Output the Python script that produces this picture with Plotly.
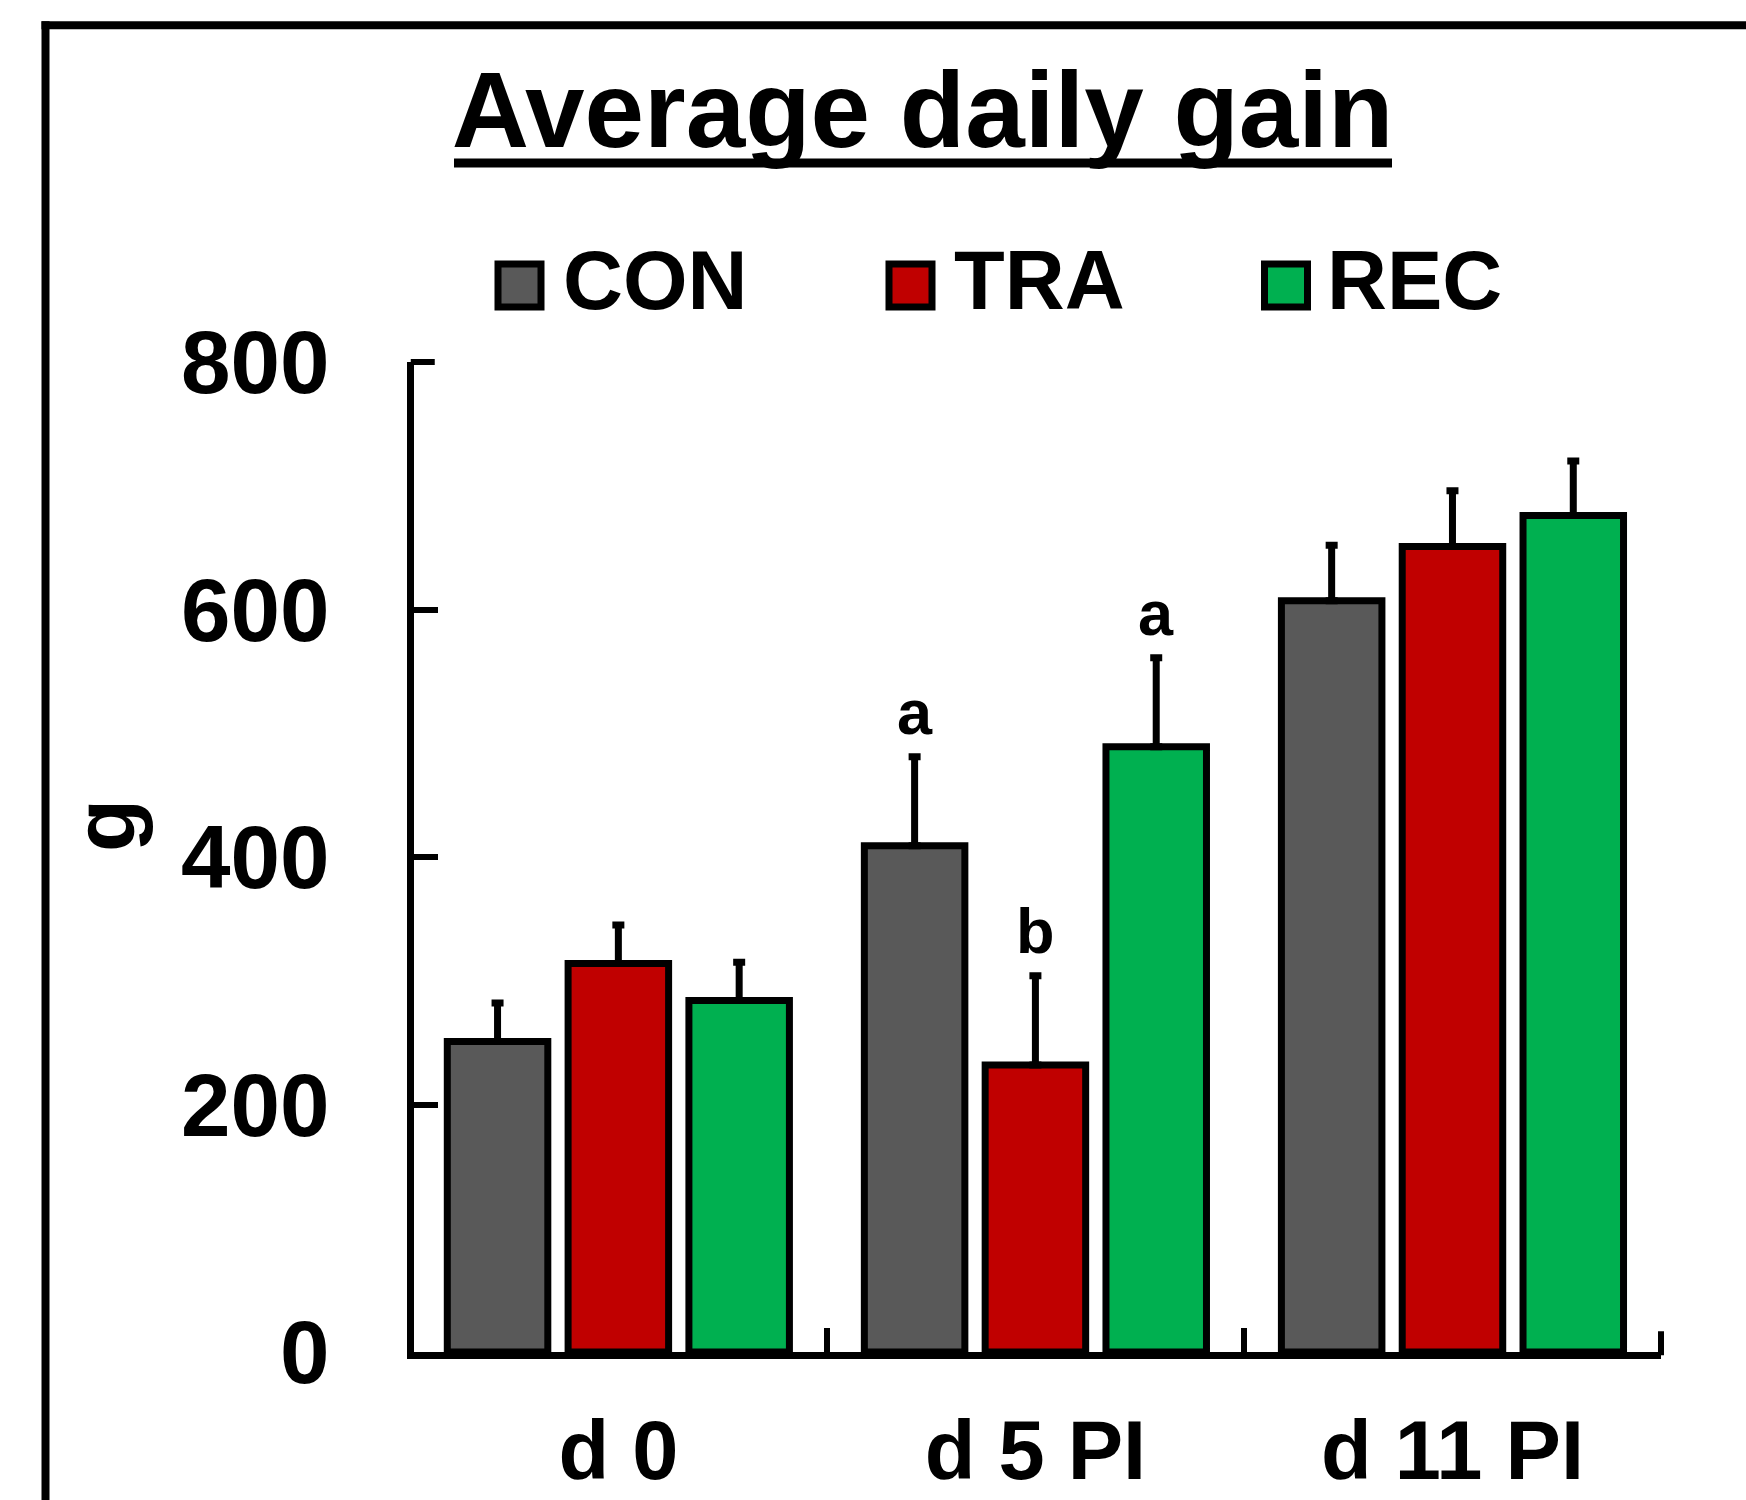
import plotly.graph_objects as go

# ---- data ----
categories = ["d 0", "d 5 PI", "d 11 PI"]
groups = ["CON", "TRA", "REC"]
con_mean = [251, 409, 607]
tra_mean = [314, 232, 651]
rec_mean = [284, 489, 676]
con_se = [31, 72, 45]
tra_se = [31, 72, 45]
rec_se = [31, 72, 44]
letters_con = ["", "a", ""]
letters_tra = ["", "b", ""]
letters_rec = ["", "a", ""]
y_ticks = [0, 200, 400, 600, 800]
y_range = [0, 800]
x_range = [-0.49, 2.5]
title_text = "Average daily gain"
y_title = "g"

colors = {"CON": "#595959", "TRA": "#C00000", "REC": "#00B050"}
means = {"CON": con_mean, "TRA": tra_mean, "REC": rec_mean}
ses = {"CON": con_se, "TRA": tra_se, "REC": rec_se}
letters = {"CON": letters_con, "TRA": letters_tra, "REC": letters_rec}

# ---- layout geometry ----
FIG_W, FIG_H = 1746, 1500
ML, MR, MT, MB = 414, 85, 362, 148
PW = FIG_W - ML - MR
PH = FIG_H - MT - MB
BARGAP = 0.131
BARGROUPGAP = 0.168
AX_LW = 6.5
TICKLEN = 24
TICKW = 6
FONT = "Liberation Sans, Arial, sans-serif"


def px(x):
    return (x - ML) / PW


def py(y):
    return (FIG_H - MB - y) / PH


fig = go.Figure()
for g in groups:
    fig.add_trace(go.Bar(
        name=g,
        x=categories,
        y=means[g],
        marker=dict(color=colors[g], line=dict(color="black", width=7)),
        error_y=dict(type="data", array=ses[g], arrayminus=[0] * len(ses[g]),
                     symmetric=False, color="black", thickness=7, width=6),
        showlegend=False,
    ))

annotations = []
slot = (1 - BARGAP) / len(groups)
for gi, g in enumerate(groups):
    off = (gi - (len(groups) - 1) / 2) * slot
    for ci, c in enumerate(categories):
        t = letters[g][ci]
        if t:
            annotations.append(dict(
                x=ci + off, y=means[g][ci] + ses[g][ci], xref="x", yref="y",
                text=t, showarrow=False, xanchor="center", yanchor="bottom",
                yshift=8, font=dict(family=FONT, size=63, color="black", weight="bold")))

# y-axis title as rotated text
annotations.append(dict(
    x=px(104), y=py(826), xref="paper", yref="paper", text=y_title,
    showarrow=False, textangle=-90, xanchor="center", yanchor="middle",
    font=dict(family=FONT, size=87, color="black", weight="bold")))

# custom legend
shapes = []
legend_items = [("CON", 519.5, 561), ("TRA", 910.5, 952), ("REC", 1286, 1325)]
for name, bx, tx in legend_items:
    shapes.append(dict(type="rect", xref="paper", yref="paper",
                       x0=px(bx - 21.5), x1=px(bx + 21.5),
                       y0=py(285.5 + 21.5), y1=py(285.5 - 21.5),
                       fillcolor=colors[name], line=dict(color="black", width=7)))
    annotations.append(dict(
        x=px(tx), y=py(280.5), xref="paper", yref="paper", text=name,
        showarrow=False, xanchor="left", yanchor="middle",
        font=dict(family=FONT, size=83, color="black", weight="bold")))

# title underline (continuous, under descenders)
shapes.append(dict(type="line", xref="paper", yref="paper",
                   x0=px(454), x1=px(1392), y0=py(163), y1=py(163),
                   line=dict(color="black", width=9)))

# end ticks that plotly clips at the axis extremes
y_top_frac = (y_ticks[-1] - y_range[0]) / (y_range[1] - y_range[0])
shapes.append(dict(type="line", xref="paper", yref="paper",
                   x0=-AX_LW / 2 / PW, x1=(TICKLEN - AX_LW / 2) / PW,
                   y0=y_top_frac, y1=y_top_frac,
                   line=dict(color="black", width=TICKW)))
shapes.append(dict(type="line", xref="paper", yref="paper",
                   x0=1, x1=1, y0=-AX_LW / 2 / PH, y1=(TICKLEN - AX_LW / 2) / PH,
                   line=dict(color="black", width=TICKW)))

# outer frame (top and left)
shapes.append(dict(type="line", xref="paper", yref="paper",
                   x0=px(45.5), x1=px(45.5), y0=py(21.3), y1=py(1510),
                   line=dict(color="black", width=8)))
shapes.append(dict(type="line", xref="paper", yref="paper",
                   x0=px(41.5), x1=px(1760), y0=py(25.3), y1=py(25.3),
                   line=dict(color="black", width=8)))

fig.update_layout(
    width=FIG_W, height=FIG_H,
    margin=dict(l=ML, r=MR, t=MT, b=MB, pad=0, autoexpand=False),
    paper_bgcolor="white", plot_bgcolor="white",
    barmode="group", bargap=BARGAP, bargroupgap=BARGROUPGAP,
    title=dict(text=title_text, x=922.6 / FIG_W, xref="container",
               xanchor="center", y=1 - 110 / FIG_H, yref="container", yanchor="middle",
               font=dict(family=FONT, size=107, color="black", weight="bold")),
    xaxis=dict(type="category", range=x_range, showline=True,
               linecolor="black", linewidth=AX_LW, ticks="inside", tickson="boundaries",
               ticklen=TICKLEN, tickwidth=TICKW, tickcolor="black", showgrid=False,
               zeroline=False, ticklabelstandoff=21, automargin=False,
               tickfont=dict(family=FONT, size=83, color="black", weight="bold")),
    yaxis=dict(range=y_range, tickvals=y_ticks, showline=True, linecolor="black",
               linewidth=AX_LW, ticks="inside", ticklen=TICKLEN, tickwidth=TICKW,
               tickcolor="black", showgrid=False, zeroline=False, ticklabelstandoff=60,
               automargin=False,
               tickfont=dict(family=FONT, size=89, color="black", weight="bold")),
    annotations=annotations,
    shapes=shapes,
    showlegend=False,
)

fig.write_html("out.html")
